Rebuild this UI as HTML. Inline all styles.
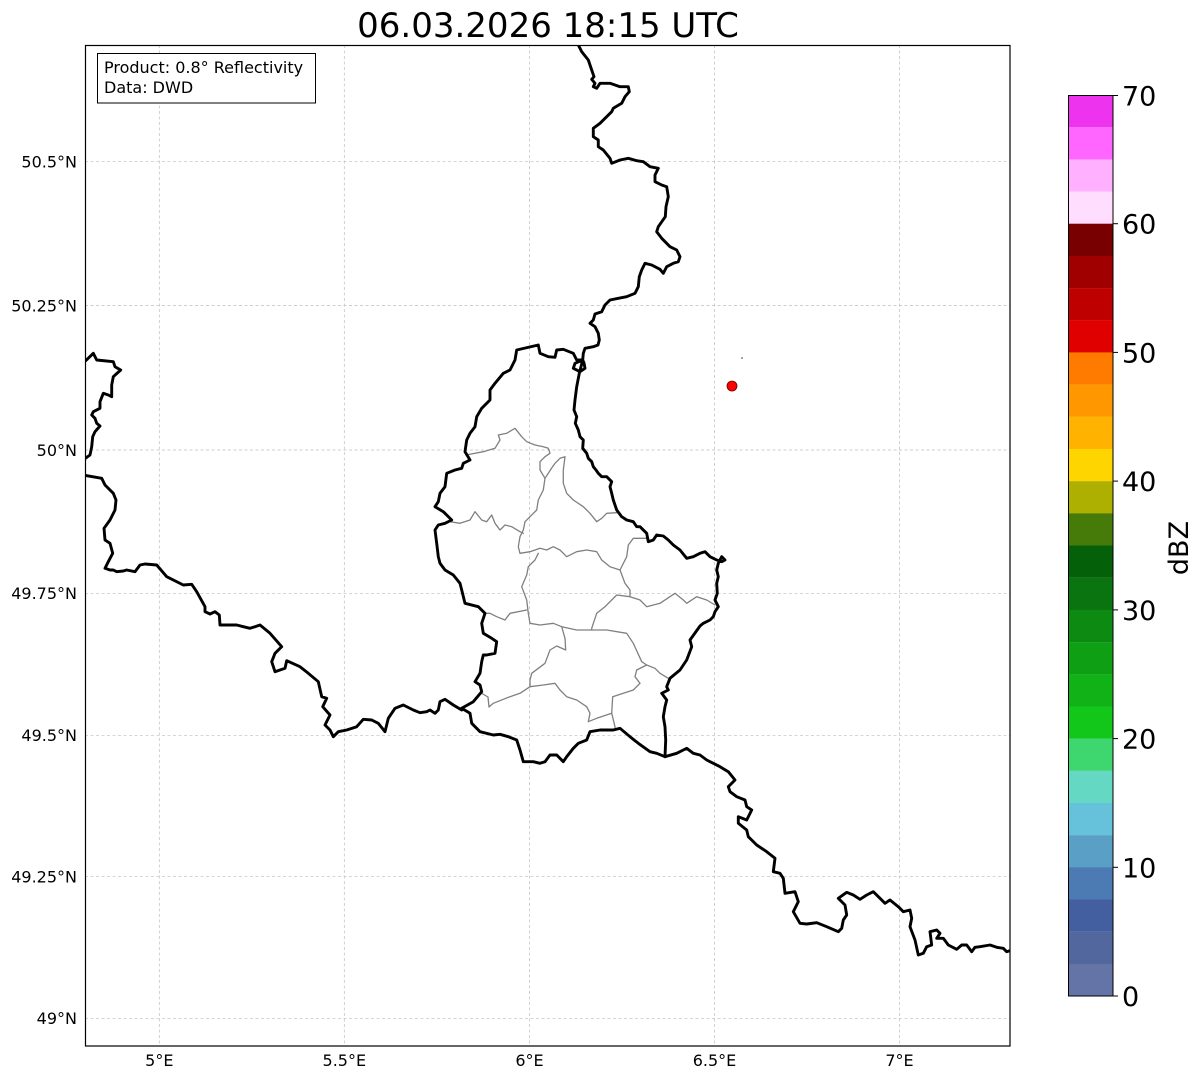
<!DOCTYPE html>
<html><head><meta charset="utf-8"><style>
html,body{margin:0;padding:0;background:#fff;}
svg{display:block;}
text{font-family:"DejaVu Sans","Liberation Sans",sans-serif;fill:#000;}
</style></head><body>
<svg width="1202" height="1081" viewBox="0 0 1202 1081" xmlns="http://www.w3.org/2000/svg">
<rect width="1202" height="1081" fill="#fff"/>
<text x="548" y="37" font-size="34" text-anchor="middle">06.03.2026 18:15 UTC</text>
<defs><clipPath id="c"><rect x="85" y="45" width="925" height="1001"/></clipPath></defs>
<g stroke="#bdbdbd" stroke-width="0.7" stroke-dasharray="3,2.5" fill="none">
<line x1="159.3" y1="45" x2="159.3" y2="1046"/>
<line x1="344.3" y1="45" x2="344.3" y2="1046"/>
<line x1="529.5" y1="45" x2="529.5" y2="1046"/>
<line x1="714.5" y1="45" x2="714.5" y2="1046"/>
<line x1="899.5" y1="45" x2="899.5" y2="1046"/>
<line x1="85" y1="161.7" x2="1010" y2="161.7"/>
<line x1="85" y1="305.5" x2="1010" y2="305.5"/>
<line x1="85" y1="450" x2="1010" y2="450"/>
<line x1="85" y1="593.3" x2="1010" y2="593.3"/>
<line x1="85" y1="735.3" x2="1010" y2="735.3"/>
<line x1="85" y1="876.7" x2="1010" y2="876.7"/>
<line x1="85" y1="1018.3" x2="1010" y2="1018.3"/>
</g>
<g clip-path="url(#c)" fill="none" stroke-linejoin="round" stroke-linecap="round">
<g stroke="#808080" stroke-width="1.3">
<polyline points="466,455 483.3,451.7 495,448.3 500,440 498.3,435 506.7,433.3 515,428.3 521.7,436.7 526.7,441.7 535,445 543.3,446.7 548.3,448.3 550,453.3 545,456.7 540,461.7 540,470 545,478.3 543.3,490 538.3,500 536.7,510 530,516.7 525,521.7 523.3,530 520,536.7 518.3,546.7 520,553.3"/>
<polyline points="545,478.3 551.7,468 555,463.3 560,458.3 565,456.7 563.3,470 563.3,483.3 566.7,493.3 573.3,500 583.3,506.7 590,513.3 596.7,521.7 601.7,518.3 606.7,513.3 616.7,512.7"/>
<polyline points="450,521.7 460,523.3 470,520 475,511.7 481.7,520 486.7,521.7 491.7,515 495,523.3 500,530 505,525 511.7,526.7 520,531.7 523.3,533.3"/>
<polyline points="520,553.3 530,551.7 540,548.3 546.7,550 553.3,546.7 560,550 566.7,556.7 576.7,551.7 586.7,550 596.7,551.7 601.7,560 610,566.7 620,570"/>
<polyline points="648.3,541.7 646.7,538.3 633.3,538.3 628.3,545 626.7,556.7 620,570 625,583.3 630,590 630,596.7"/>
<polyline points="630,596.7 640,600 646.7,606.7 660,603.3 675,593.3 683.3,600 686.7,603.3 696.7,596.7 706.7,600 715,605"/>
<polyline points="630,596.7 616.7,595 605,606.7 596.7,613.3 591.7,628.3 591.7,630"/>
<polyline points="538.3,553.3 535,560 528.3,566.7 526.7,575 521.7,586.7 526.7,600 528.3,613.3 530,623.3"/>
<polyline points="526.7,610 510,613.3 505,620 496.7,616.7 490,613.3 485,613.3"/>
<polyline points="530,623.3 540,625 553.3,623.3 561.7,626.7 576.7,630 591.7,630 606.7,630 626.7,633.3 633.3,643.3 641.7,661.7 646.7,665 655,668.3 660,673.3 668.3,678.3"/>
<polyline points="561.7,626.7 565,638.3 565.7,650 556.7,646 550,650 545,663.3 531.7,673.3 530,680 530,686.7"/>
<polyline points="530,686.7 543.3,685 555,683.3 560,690 566.7,696.7 576.7,700 586.7,706.7 590,713.3 588.3,721.7 596.7,718.3 611.7,713.3 615,726.7 615,729"/>
<polyline points="611.7,713.3 612.7,696.7 623.3,693.3 633.3,690 640,683.3 635,676.7 636.7,670 646.7,665"/>
<polyline points="530,686.7 520,693.3 510,696.7 493.3,703.3 489,707 488,697 481.7,693.3"/>
</g>
<g stroke="#000" stroke-width="2.9">
<polyline points="578.3,45 581.7,51.7 588.3,60 591.7,70 594,76.7 591.7,79.3 595,83.3 593.3,86.7 596.7,88.3 600,83.3 610,83.3 620,86.7 628.3,86.7 629.3,91.7 625,96.7 621.7,103.3 613.3,108.3 611.7,111.7 606.7,116.7 600,123.3 593.3,128.3 593.3,136.7 598.3,140 598.3,146.7 603.3,150 610,158.3 611.7,163.3 620,160 628.3,158.3 636.7,160.7 643.3,161.7 650,166.7 658.3,168.3 655,175 655,181.7 661.7,185 666.7,186.7 668.3,196.7 666,206.7 665.3,216.7 658.3,226.7 656.7,231.7 661.7,238.3 670,246.7 676.7,250 680,256.7 678.3,261.7 673.3,263.3 666.7,266.7 663.3,273.3 660,269.3 651.7,265 645,263.3 641.7,270 639.3,276.7 638.3,286.7 635,293.3 626.7,296.7 618.3,298.3 610,300 605,305 601.7,311.7 595,314 593.3,320 590,323.3 595,326.7 598.3,333.3 599.3,340 598,345 593.3,346.7 585,348.3 583.3,353.3 582.7,360 575,363.3 573.3,368.3 580,371.7 585,368.3 584,363 582.7,360 579.3,373.3 576.7,386.7 575,400 574,410 576.7,416.7 575.3,423.3 578.3,430 580,436.7 583.3,440 582.7,448.3 586.7,453.3 588.3,458.3 591.7,461.7 593.3,466.7 596,470 598.3,473.3 601.7,476.7 606.7,476.7 611.7,481.7 610,486.7 611.7,493.3 613.3,500 616.7,510 621.7,516.7 626.7,520 633.3,521.7 636.7,526.7 640,526.7 646.7,533.3 648.3,541.7 653.3,540 656.7,535 663.3,536 668.3,540 673.3,545 680,550 686.7,558.3 693.3,556.7 700,553.3 705,551.7 710,556.7 716.7,560 721.7,561.7 725,560 721.7,556.7 718.3,563.3 716.7,570 718.3,576.7 716.7,583.3 717.3,593.3 715,600 718.3,606.7 715,611.7 713.3,616.7 710,620 703.3,623.3 700,626 695,633 690,640 691.7,646.7 686.7,660 680,670 670,678.3 666.7,686.7 668.3,690 661.7,693.3 666.7,700 665,706.7 663.3,716.7 665,726.7 665.7,740 665,756.7"/>
<polyline points="665,756.7 676.7,753.3 683.3,750 686.7,748.3 693.3,753.3 700,755 706.7,760 713.3,763.3 720,766.7 728.3,771.7 735,780 728.3,786.7 730,791.7 736.7,796.7 745,800 746.7,806.7 751.7,810 746.7,820 738.3,816.7 738.3,823.3 746.7,830 748.3,836.7 756.7,845 766.7,851.7 775,858.3 773.3,871.7 780,873.3 783.3,878.3 785,893.3 795,891.7 798.3,901.7 793.3,911.7 800,923.3 806.7,924 816.7,922.7 826.7,926.7 838.3,931.7 841.7,928.3 843.3,920 846.7,915 845,905 838.3,898.3 846.7,892.3 853.3,895 860,899.3 866.7,895 873.3,891.7 880,898.3 885,903.3 890,900 898.3,906.7 903.3,911.7 910,910 911.7,918.3 910,926.7 915,940 918.3,955 923.3,953.3 926.7,946.7 931.7,945 930,931.7 936.7,930 940,933.3 936.7,938.3 943.3,938.3 948.3,945 956.7,949.3 961.7,945 966.7,945 971.7,951.7 975,947.3 980,946.7 990,945 996.7,947.3 1003.3,948.3 1006.7,951.7 1012,950"/>
<polyline points="665,756.7 656.7,753.3 650,751.7 638.3,743.3 630,736.7 620,728.3 613.3,730 600,730 590,731.7 586.7,740 578.3,743.3 573.3,748.3 566.7,756.7 563.3,761.7 556.7,755 550,755 545,761.7 540,763.3 533.3,761.7 523.3,761.7 520,750 516.7,740 508.3,736.7 500,734.3 493.3,735 480,731.7 471.7,723.3 470,713.3 461.7,708.3"/>
<polyline points="461.7,708.3 461.7,710 453.3,705 445,699.3 440,701.7 438.3,710 435,713.3 430,710 426.7,711.7 420,712.7 413.3,710 403.3,705 395,708.3 388.3,718.3 385,731.7 378.3,723.3 371.7,720 363.3,719.3 356.7,726.7 346.7,730 338.3,731.7 333.3,736.7 330,730 325,725 330,715 322.7,706.7 326.7,698.3 321.7,696.7 318.3,681.7 308.3,673.3 300,666.7 286.7,660.7 285,668.3 275,671.7 271.7,661.7 275,653.3 281.7,646.7 270,633.3 260,625 255,626.7 250,628.3 243.3,626.7 236.7,625 220,625 219.3,615 215,611.7 210,614 205,611.7 205,606.7 196.7,591.7 191.7,584.3 183.3,585 166.7,576.7 156.7,565 145,564 140,565 135,571.7 126.7,570 123.3,571 116.7,571.7 113.3,570 110,570 105,568.3 108.3,561.7 112.7,553.3 110,543.3 105,540 104,528.3 110,520 115,510 116,500 113.3,493.3 105,485 101.7,478.3 83,475"/>
<polyline points="582.7,360 576.7,360 573.3,353.3 563.3,349.3 556.7,350 555,357.3 548.3,356.7 540,353.3 538.3,345 516.7,350 515,360 510,370 503.3,373.3 495,383.3 490,390 490,400 481.7,408.3 476.7,416.7 475,426.7 470,433.3 466.7,440 465,451.7 470,460 463.3,463.3 461.7,468.3 455,470 446.7,473.3 445,486.7 440,493.3 438.3,501.7 435,506.7 443.3,511.7 451.7,520 445,523.3 438.3,525 435,530 436.7,543.3 438.3,556.7 440,563.3 445,570 453.3,575 460,583.3 461.7,590 465,603.3 478.3,606.7 485,613.3 481.7,623.3 483.3,633.3 491.7,638.3 496.7,641.7 495,653.3 486.7,655 483.3,655 481.7,661.7 480,673.3 475,681.7 480,685 481.7,691.7 473.3,701.7 461.7,708.3"/>
<polyline points="83,363.3 93.3,353.3 96.7,360 113.3,361.7 115,366.7 120.7,370 113.3,376.7 111.7,385 111.7,396.7 108.3,395 103.3,393.3 100,401.7 100,408.3 93.3,411.7 91.7,415 95,418.3 96.7,423.3 100,426 95,431.7 92.7,436.7 91.7,446.7 90,455 83,460"/>
</g>
</g>
<circle cx="732" cy="386" r="5" fill="#f00" stroke="#600" stroke-width="0.8"/>
<circle cx="742" cy="358" r="0.8" fill="#333"/>
<rect x="85.5" y="45.5" width="924.5" height="1000.5" fill="none" stroke="#000" stroke-width="1.2"/>
<rect x="97.5" y="53.5" width="218" height="49.5" fill="#fff" stroke="#000" stroke-width="1"/>
<text x="104" y="73" font-size="16">Product: 0.8° Reflectivity</text>
<text x="104" y="93" font-size="16">Data: DWD</text>
<g font-size="16" text-anchor="end">
<text x="77" y="167.5">50.5°N</text>
<text x="77" y="311.5">50.25°N</text>
<text x="77" y="456">50°N</text>
<text x="77" y="599">49.75°N</text>
<text x="77" y="741">49.5°N</text>
<text x="77" y="882.5">49.25°N</text>
<text x="77" y="1024">49°N</text>
</g>
<g font-size="16" text-anchor="middle">
<text x="159.3" y="1066">5°E</text>
<text x="344.3" y="1066">5.5°E</text>
<text x="529.5" y="1066">6°E</text>
<text x="714.5" y="1066">6.5°E</text>
<text x="899.5" y="1066">7°E</text>
</g>
<g>
<rect x="1068" y="95" width="45" height="32.3" fill="#ee33ee"/>
<rect x="1068" y="127.2" width="45" height="32.3" fill="#ff66ff"/>
<rect x="1068" y="159.4" width="45" height="32.3" fill="#ffb0ff"/>
<rect x="1068" y="191.5" width="45" height="32.3" fill="#ffddff"/>
<rect x="1068" y="223.7" width="45" height="32.3" fill="#780000"/>
<rect x="1068" y="255.9" width="45" height="32.3" fill="#a00000"/>
<rect x="1068" y="288.1" width="45" height="32.3" fill="#bf0000"/>
<rect x="1068" y="320.3" width="45" height="32.3" fill="#e00000"/>
<rect x="1068" y="352.4" width="45" height="32.3" fill="#ff7b00"/>
<rect x="1068" y="384.6" width="45" height="32.3" fill="#ff9800"/>
<rect x="1068" y="416.8" width="45" height="32.3" fill="#ffb300"/>
<rect x="1068" y="449" width="45" height="32.3" fill="#ffd500"/>
<rect x="1068" y="481.2" width="45" height="32.3" fill="#adb000"/>
<rect x="1068" y="513.4" width="45" height="32.3" fill="#467b0a"/>
<rect x="1068" y="545.5" width="45" height="32.3" fill="#05600a"/>
<rect x="1068" y="577.7" width="45" height="32.3" fill="#0a7510"/>
<rect x="1068" y="609.9" width="45" height="32.3" fill="#0c8a12"/>
<rect x="1068" y="642.1" width="45" height="32.3" fill="#0e9f14"/>
<rect x="1068" y="674.3" width="45" height="32.3" fill="#10b217"/>
<rect x="1068" y="706.4" width="45" height="32.3" fill="#12c719"/>
<rect x="1068" y="738.6" width="45" height="32.3" fill="#3ed66e"/>
<rect x="1068" y="770.8" width="45" height="32.3" fill="#64d8c2"/>
<rect x="1068" y="803" width="45" height="32.3" fill="#66c2da"/>
<rect x="1068" y="835.2" width="45" height="32.3" fill="#5a9fc6"/>
<rect x="1068" y="867.4" width="45" height="32.3" fill="#4b7bb2"/>
<rect x="1068" y="899.5" width="45" height="32.3" fill="#435fa0"/>
<rect x="1068" y="931.7" width="45" height="32.3" fill="#53679f"/>
<rect x="1068" y="963.9" width="45" height="32.1" fill="#6574a6"/>
<rect x="1068.5" y="95.5" width="44.5" height="900.5" fill="none" stroke="#000" stroke-width="1"/>
<g stroke="#000" stroke-width="1">
<line x1="1113" y1="996" x2="1118" y2="996"/>
<line x1="1113" y1="867.3" x2="1118" y2="867.3"/>
<line x1="1113" y1="738.6" x2="1118" y2="738.6"/>
<line x1="1113" y1="609.9" x2="1118" y2="609.9"/>
<line x1="1113" y1="481.1" x2="1118" y2="481.1"/>
<line x1="1113" y1="352.4" x2="1118" y2="352.4"/>
<line x1="1113" y1="223.7" x2="1118" y2="223.7"/>
<line x1="1113" y1="95.5" x2="1118" y2="95.5"/>
</g>
<g font-size="27">
<text x="1122" y="1006">0</text>
<text x="1122" y="877.5">10</text>
<text x="1122" y="748.5">20</text>
<text x="1122" y="620">30</text>
<text x="1122" y="491">40</text>
<text x="1122" y="362.5">50</text>
<text x="1122" y="233.5">60</text>
<text x="1122" y="105.5">70</text>
</g>
<text x="1188" y="548" font-size="27" text-anchor="middle" transform="rotate(-90 1188 548)">dBZ</text>
</g>
</svg>
</body></html>
